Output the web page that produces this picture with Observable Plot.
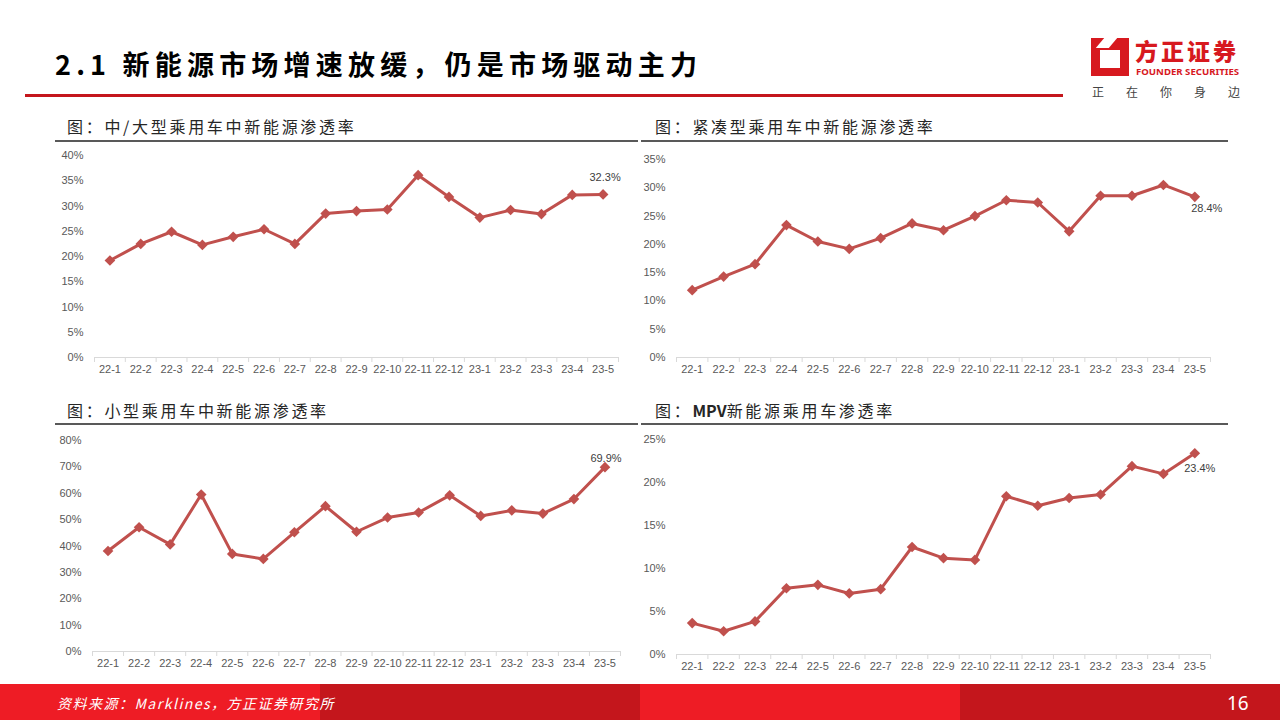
<!DOCTYPE html>
<html><head><meta charset="utf-8">
<script src="https://cdn.jsdelivr.net/npm/d3@7"></script>
<script src="https://cdn.jsdelivr.net/npm/@observablehq/plot@0.6"></script>
<style>
html,body{margin:0;padding:0;background:#fff;}
#page{position:relative;width:1280px;height:720px;overflow:hidden;background:#fff;font-family:"Noto Sans CJK SC","Noto Sans",sans-serif;}
.abs{position:absolute;line-height:1;}
.ptitle{position:absolute;font-size:16px;letter-spacing:2.7px;color:#262626;white-space:nowrap;font-family:"Noto Sans CJK SC",sans-serif;line-height:1;}
.uline{position:absolute;height:2px;background:#595959;}
.chart{position:absolute;}
.chart svg{overflow:visible;}
</style></head>
<body><div id="page">
  <div class="abs" style="left:55px;top:50px;font-size:27px;font-weight:700;letter-spacing:5.2px;color:#000;white-space:nowrap;">2.1 新能源市场增速放缓，仍是市场驱动主力</div>
  <div class="abs" style="left:25px;top:94px;width:1038px;height:3px;background:#c4161c;"></div>
  <!-- logo -->
  <div class="abs" style="left:1091px;top:38px;width:38px;height:38px;background:#d7191f;"></div>
  <div class="abs" style="left:1100px;top:50px;width:20px;height:18px;background:#fff;"></div>
  <div class="abs" style="left:1100px;top:38px;width:13px;height:10px;background:#fff;transform:skewX(-40deg);"></div>
  <div class="abs" style="left:1135px;top:39px;font-size:23px;height:23px;font-weight:900;color:#d7191f;letter-spacing:3px;white-space:nowrap;">方正证券</div>
  <div class="abs" style="left:1136px;top:67px;font-size:9.6px;height:10px;font-weight:700;color:#d7191f;white-space:nowrap;font-family:'Noto Sans',sans-serif;">FOUNDER SECURITIES</div>
  <div class="abs" style="left:1092px;top:86px;font-size:12px;color:#444;letter-spacing:22px;white-space:nowrap;">正在你身边</div>

  <div class="ptitle" style="left:67px;top:118px;">图：中/大型乘用车中新能源渗透率</div>
  <div class="uline" style="left:55px;top:140px;width:583px;"></div>
  <div class="ptitle" style="left:655px;top:118px;">图：紧凑型乘用车中新能源渗透率</div>
  <div class="uline" style="left:641px;top:140px;width:587px;"></div>
  <div class="ptitle" style="left:67px;top:402px;">图：小型乘用车中新能源渗透率</div>
  <div class="uline" style="left:55px;top:423px;width:583px;"></div>
  <div class="ptitle" style="left:655px;top:402px;">图：<span style="letter-spacing:0;font-weight:700;">MPV</span>新能源乘用车渗透率</div>
  <div class="uline" style="left:641px;top:423px;width:587px;"></div>

  <div id="c1" class="chart" style="left:40px;top:145px;"></div>
  <div id="c2" class="chart" style="left:640px;top:145px;"></div>
  <div id="c3" class="chart" style="left:40px;top:430px;"></div>
  <div id="c4" class="chart" style="left:640px;top:430px;"></div>

  <!-- footer -->
  <div class="abs" style="left:0;top:684px;width:320px;height:36px;background:#ee1c25;"></div>
  <div class="abs" style="left:320px;top:684px;width:320px;height:36px;background:#c4161c;"></div>
  <div class="abs" style="left:640px;top:684px;width:320px;height:36px;background:#ee1c25;"></div>
  <div class="abs" style="left:960px;top:684px;width:320px;height:36px;background:#c4161c;"></div>
  <div class="abs" style="left:57px;top:696px;font-size:14px;font-style:italic;color:#fff;letter-spacing:1.5px;white-space:nowrap;">资料来源：Marklines，方正证券研究所</div>
  <div class="abs" style="left:1227px;top:694px;font-size:19px;color:#fff;white-space:nowrap;font-family:'Liberation Sans Narrow','Noto Sans',sans-serif;">16</div>
</div>
<script>
const months = ["22-1","22-2","22-3","22-4","22-5","22-6","22-7","22-8","22-9","22-10","22-11","22-12","23-1","23-2","23-3","23-4","23-5"];
const largeCar   = [19.2,22.5,24.9,22.3,23.9,25.4,22.5,28.5,29.0,29.3,36.1,31.8,27.7,29.2,28.4,32.2,32.3];
const compactCar = [11.9,14.3,16.5,23.4,20.5,19.2,21.1,23.7,22.5,25.0,27.8,27.4,22.3,28.6,28.6,30.5,28.4];
const smallCar   = [38.1,47.1,40.6,59.5,37.0,35.1,45.2,55.1,45.4,50.8,52.7,59.2,51.4,53.5,52.3,57.8,69.9];
const mpvCar     = [3.65,2.7,3.85,7.7,8.1,7.1,7.6,12.5,11.2,11.0,18.4,17.3,18.2,18.6,21.9,21.0,23.4];
const lastLabels = ["32.3%","28.4%","69.9%","23.4%"];

const RED = "#c0504d";
const FONT = "'Liberation Sans Narrow','Arial Narrow','Liberation Sans',sans-serif";

function chart(id, values, label, cfg) {
  const data = months.map((m, i) => ({i, m, v: values[i]}));
  const n = months.length;
  const bounds = d3.range(n + 1).map(k => k - 0.5);
  const yt = d3.range(0, cfg.yMax + 0.001, cfg.yStep);
  const last = data[n - 1];
  const p = Plot.plot({
    width: cfg.width, height: cfg.height,
    marginLeft: cfg.ml, marginRight: cfg.mr, marginTop: cfg.mt, marginBottom: cfg.mb,
    style: {fontFamily: FONT, fontSize: "11px", color: "#595959", background: "transparent", overflow: "visible"},
    x: {type: "linear", domain: [-0.5, n - 0.5]},
    y: {domain: [0, cfg.yMax]},
    marks: [
      Plot.axisY({ticks: yt, tickSize: 0, tickPadding: 11, tickFormat: d => d + "%", label: null, fill: "#595959"}),
      Plot.axisX({ticks: bounds, tickSize: 5, tickFormat: () => "", label: null, stroke: "#d9d9d9"}),
      Plot.axisX({ticks: d3.range(n), tickSize: 0, tickPadding: 8, tickFormat: k => months[k], label: null, fill: "#595959"}),
      Plot.ruleY([0], {stroke: "#d9d9d9", strokeWidth: 1}),
      Plot.line(data, {x: "i", y: "v", stroke: RED, strokeWidth: 3, strokeLinejoin: "round"}),
      Plot.dot(data, {x: "i", y: "v", symbol: "diamond2", r: 4.8, fill: RED, stroke: null}),
      Plot.text([last], {x: "i", y: "v", text: () => label, dx: cfg.ldx, dy: cfg.ldy, fill: "#404040", fontSize: 11})
    ]
  });
  document.getElementById(id).appendChild(p);
}

chart("c1", largeCar, lastLabels[0], {width: 590, height: 238, ml: 54, mr: 12, mt: 10, mb: 26, yMax: 40, yStep: 5, ldx: 2, ldy: -17});
chart("c2", compactCar, lastLabels[1], {width: 582, height: 238, ml: 36, mr: 12, mt: 14, mb: 26, yMax: 35, yStep: 5, ldx: 12, ldy: 12});
chart("c3", smallCar, lastLabels[2], {width: 592, height: 247, ml: 52, mr: 12, mt: 10, mb: 26, yMax: 80, yStep: 10, ldx: 1, ldy: -9});
chart("c4", mpvCar, lastLabels[3], {width: 582, height: 250, ml: 36, mr: 12, mt: 9, mb: 26, yMax: 25, yStep: 5, ldx: 5, ldy: 15});
</script>
</body></html>
